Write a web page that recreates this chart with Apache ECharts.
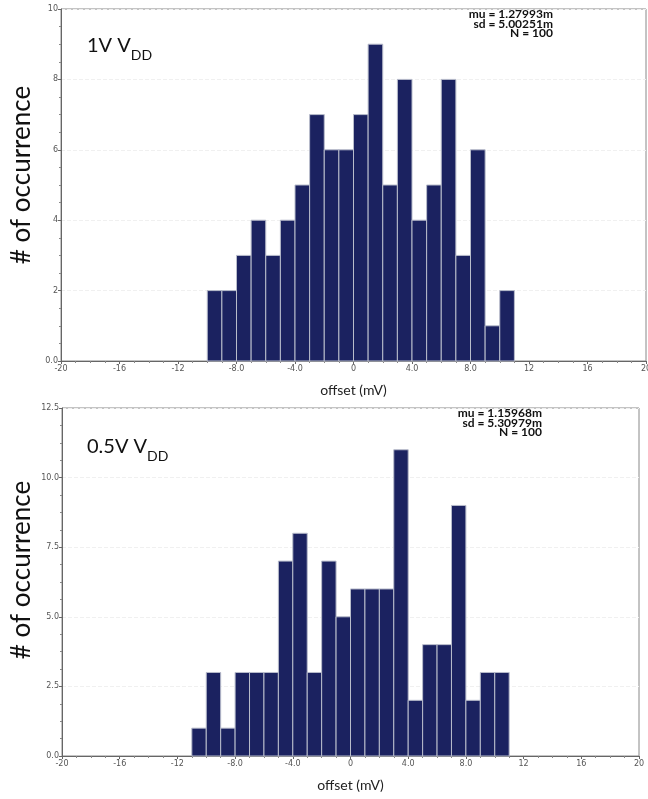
<!DOCTYPE html>
<html>
<head>
<meta charset="utf-8">
<script src="https://cdn.jsdelivr.net/npm/echarts@6/dist/echarts.min.js"></script>
<style>
html, body { margin: 0; padding: 0; background: #fff; }
#chart { width: 648px; height: 799px; }
</style>
</head>
<body>
<div id="chart"></div>
<script>
// histogram data, bin width 1 mV
var topBinLeft = [-10, -9, -8, -7, -6, -5, -4, -3, -2, -1, 0, 1, 2, 3, 4, 5, 6, 7, 8, 9, 10];
var topCounts = [2, 2, 3, 4, 3, 4, 5, 7, 6, 6, 7, 9, 5, 8, 4, 5, 8, 3, 6, 1, 2];
var bottomBinLeft = [-11, -10, -9, -8, -7, -6, -5, -4, -3, -2, -1, 0, 1, 2, 3, 4, 5, 6, 7, 8, 9, 10];
var bottomCounts = [1, 3, 1, 3, 3, 3, 7, 8, 3, 7, 5, 6, 6, 6, 11, 2, 4, 4, 9, 2, 3, 3];
var binWidth = 1;

var topStats = ['mu = 1.27993m', 'sd = 5.00251m', 'N = 100'];
var bottomStats = ['mu = 1.15968m', 'sd = 5.30979m', 'N = 100'];

var barColor = '#1b2260';
var tickFont = 'DejaVu Sans';
var textFont = 'Lato';

function toBins(lefts, counts) {
    var out = [];
    for (var i = 0; i < lefts.length; i++) {
        out.push([lefts[i], lefts[i] + binWidth, counts[i]]);
    }
    return out;
}

function renderBin(params, api) {
    var p0 = api.coord([api.value(0), api.value(2)]);
    var p1 = api.coord([api.value(1), 0]);
    return {
        type: 'rect',
        shape: { x: p0[0], y: p0[1], width: p1[0] - p0[0], height: p1[1] - p0[1] },
        style: { fill: barColor, stroke: '#b8bccb', lineWidth: 1 }
    };
}

function xLabel(v) {
    if (v === 0) return '0';
    if (Math.abs(v) < 10) return v.toFixed(1);
    return String(v);
}

function makeX(idx) {
    return {
        gridIndex: idx, type: 'value', min: -20, max: 20, interval: 4,
        name: 'offset (mV)', nameLocation: 'middle', nameGap: 22,
        nameTextStyle: { fontFamily: textFont, fontSize: 14, color: '#222' },
        axisLine: { onZero: false, lineStyle: { color: '#666', width: 1 } },
        axisTick: { show: true, length: 3, lineStyle: { color: '#666' } },
        minorTick: { show: true, splitNumber: 4, length: 2, lineStyle: { color: '#888' } },
        axisLabel: { fontFamily: tickFont, fontSize: 8, color: '#555', margin: 4, formatter: xLabel },
        splitLine: { show: false }
    };
}

function makeY(idx, max, interval, fmt) {
    return {
        gridIndex: idx, type: 'value', min: 0, max: max, interval: interval,
        axisLine: { show: true, onZero: false, lineStyle: { color: '#666', width: 1 } },
        axisTick: { show: true, length: 3, lineStyle: { color: '#666' } },
        minorTick: { show: true, splitNumber: 4, length: 2, lineStyle: { color: '#888' } },
        axisLabel: { fontFamily: tickFont, fontSize: 8, color: '#555', margin: 3, formatter: fmt },
        splitLine: { show: true, lineStyle: { color: '#f0f0f0', type: 'dashed' } }
    };
}

function statsText(lines, x, y) {
    return {
        type: 'text', x: x, y: y,
        style: {
            text: lines.join('\n'), fontFamily: textFont, fontWeight: 'bold', fontSize: 12,
            lineHeight: 9.8, fill: '#111', align: 'right', verticalAlign: 'top'
        }
    };
}

function vddLabel(prefix, left, top) {
    return {
        type: 'text', left: left, top: top,
        style: {
            text: '{a|' + prefix + 'V}{s|DD}',
            rich: {
                a: { fontFamily: textFont, fontSize: 20, fill: '#111', lineHeight: 26, verticalAlign: 'bottom' },
                s: { fontFamily: textFont, fontSize: 14, fill: '#111', padding: [0, 0, -6, 0], verticalAlign: 'bottom' }
            }
        }
    };
}

function yTitle(cy) {
    return {
        type: 'text', x: 22, y: cy, rotation: Math.PI / 2,
        style: { text: '# of occurrence', fontFamily: textFont, fontSize: 26, fill: '#111', textAlign: 'center', textVerticalAlign: 'middle' }
    };
}

var myChart = echarts.init(document.getElementById('chart'));

var option = {
    animation: false,
    backgroundColor: '#fff',
    grid: [
        { left: 61, top: 9, width: 585, height: 352, outerBoundsMode: 'none', containLabel: false,
          show: true, borderColor: '#888', borderWidth: 1 },
        { left: 62, top: 408, width: 577, height: 348, outerBoundsMode: 'none', containLabel: false,
          show: true, borderColor: '#888', borderWidth: 1 }
    ],
    xAxis: [makeX(0), makeX(1)],
    yAxis: [
        makeY(0, 10, 2, function (v) { return v === 0 ? '0.0' : String(v); }),
        makeY(1, 12.5, 2.5, function (v) { return v.toFixed(1); })
    ],
    series: [
        { type: 'custom', xAxisIndex: 0, yAxisIndex: 0, renderItem: renderBin,
          encode: { x: [0, 1], y: 2 }, data: toBins(topBinLeft, topCounts) },
        { type: 'custom', xAxisIndex: 1, yAxisIndex: 1, renderItem: renderBin,
          encode: { x: [0, 1], y: 2 }, data: toBins(bottomBinLeft, bottomCounts) }
    ],
    graphic: [
        vddLabel('1V ', 87, 36),
        vddLabel('0.5V ', 87, 437),
        yTitle(175),
        yTitle(570),
        statsText(topStats, 553, 9),
        statsText(bottomStats, 542, 408)
    ]
};

myChart.setOption(option);
</script>
</body>
</html>
